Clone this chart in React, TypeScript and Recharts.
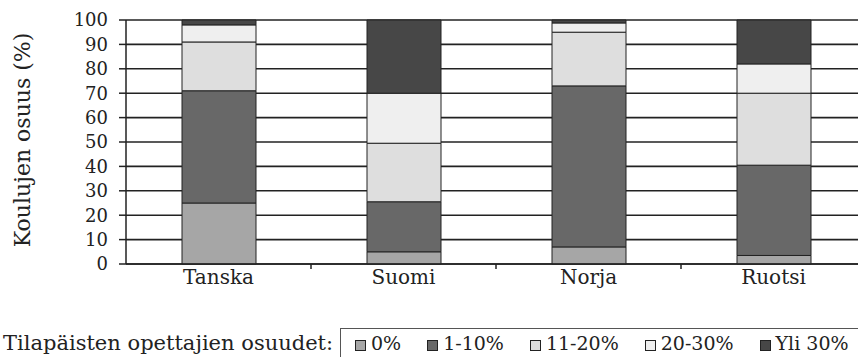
import { Bar, BarChart, CartesianGrid, XAxis, YAxis } from 'recharts';

const countries = ['Tanska', 'Suomi', 'Norja', 'Ruotsi'];
const share0 = [25, 5, 7, 3.5];
const share1to10 = [46, 20.5, 66, 37];
const share11to20 = [20, 24, 22, 29.5];
const share20to30 = [7, 20.5, 3.8, 12];
const shareOver30 = [2, 30, 1.2, 18];
const yTicks = [0, 10, 20, 30, 40, 50, 60, 70, 80, 90, 100];
const edgeTicks = [1, 2, 3];

const series = [
  { key: 'p0', name: '0%', color: '#a6a6a6', values: share0 },
  { key: 'p1', name: '1-10%', color: '#686868', values: share1to10 },
  { key: 'p11', name: '11-20%', color: '#dedede', values: share11to20 },
  { key: 'p20', name: '20-30%', color: '#efefef', values: share20to30 },
  { key: 'p30', name: 'Yli 30%', color: '#474747', values: shareOver30 },
];

const data = countries.map((name, i) => {
  const row: Record<string, string | number> = { name, idx: i + 0.5 };
  series.forEach((s) => {
    row[s.key] = s.values[i];
  });
  return row;
});

const FONT = '"DejaVu Serif", serif';
const INK = '#222';

function YLabel({ viewBox }: { viewBox?: { x: number; y: number; height: number } }) {
  if (!viewBox) return null;
  const cx = viewBox.x + 22;
  const cy = viewBox.y + viewBox.height / 2 - 2;
  return (
    <text
      transform={`translate(${cx},${cy}) rotate(-90)`}
      textAnchor="middle"
      dominantBaseline="central"
      fontFamily={FONT}
      fontSize={22}
      fill={INK}
    >
      Koulujen osuus (%)
    </text>
  );
}

export default function App() {
  return (
    <div
      style={{
        position: 'fixed',
        left: 0,
        top: 0,
        width: 858,
        height: 357,
        overflow: 'hidden',
        background: '#fff',
        fontFamily: FONT,
        color: INK,
      }}
    >
      <BarChart
        width={866}
        height={299}
        data={data}
        margin={{ top: 20, right: 0, left: 0, bottom: 0 }}
        barCategoryGap={0}
      >
        <CartesianGrid xAxisId="b" vertical={false} stroke="#222" strokeWidth={1.6} />
        <XAxis
          xAxisId="b"
          dataKey="name"
          height={34}
          tickSize={0}
          tickMargin={5}
          axisLine={false}
          tickLine={false}
          tick={{ fontFamily: FONT, fontSize: 20, fill: INK }}
        />
        <XAxis
          xAxisId="a"
          type="number"
          dataKey="idx"
          domain={[0, 4]}
          ticks={edgeTicks}
          interval={0}
          tickFormatter={() => ''}
          tickSize={5}
          axisLine={{ stroke: INK, strokeWidth: 1.5 }}
          tickLine={{ stroke: INK, strokeWidth: 1.5 }}
          height={1}
        />
        <YAxis
          width={126}
          domain={[0, 100]}
          ticks={yTicks}
          interval={0}
          tickSize={7}
          tickMargin={11}
          axisLine={{ stroke: INK, strokeWidth: 1.5 }}
          tickLine={{ stroke: INK, strokeWidth: 1.5 }}
          tick={{ fontFamily: FONT, fontSize: 18, fill: INK }}
          label={<YLabel />}
        />
        {series.map((s) => (
          <Bar
            key={s.key}
            xAxisId="b"
            dataKey={s.key}
            name={s.name}
            stackId="a"
            fill={s.color}
            stroke={INK}
            strokeWidth={1}
            barSize={74}
            isAnimationActive={false}
          />
        ))}
      </BarChart>
      <div
        style={{
          position: 'absolute',
          left: 3,
          top: 333,
          fontSize: 21,
          lineHeight: '21px',
          whiteSpace: 'nowrap',
        }}
      >
        Tilapäisten opettajien osuudet:
      </div>
      <div
        style={{
          position: 'absolute',
          left: 340,
          top: 328,
          width: 600,
          height: 60,
          border: '1.5px solid #555',
          boxSizing: 'border-box',
          display: 'flex',
          alignItems: 'flex-start',
          gap: 26,
          paddingLeft: 14,
          paddingTop: 5,
          fontSize: 19,
          lineHeight: '19px',
          whiteSpace: 'nowrap',
        }}
      >
        {series.map((s) => (
          <div key={s.key} style={{ display: 'flex', alignItems: 'center', gap: 5 }}>
            <span
              style={{
                display: 'inline-block',
                width: 11,
                height: 11,
                background: s.color,
                border: `1px solid ${INK}`,
                boxSizing: 'border-box',
                marginTop: 3,
              }}
            />
            <span>{s.name}</span>
          </div>
        ))}
      </div>
    </div>
  );
}
